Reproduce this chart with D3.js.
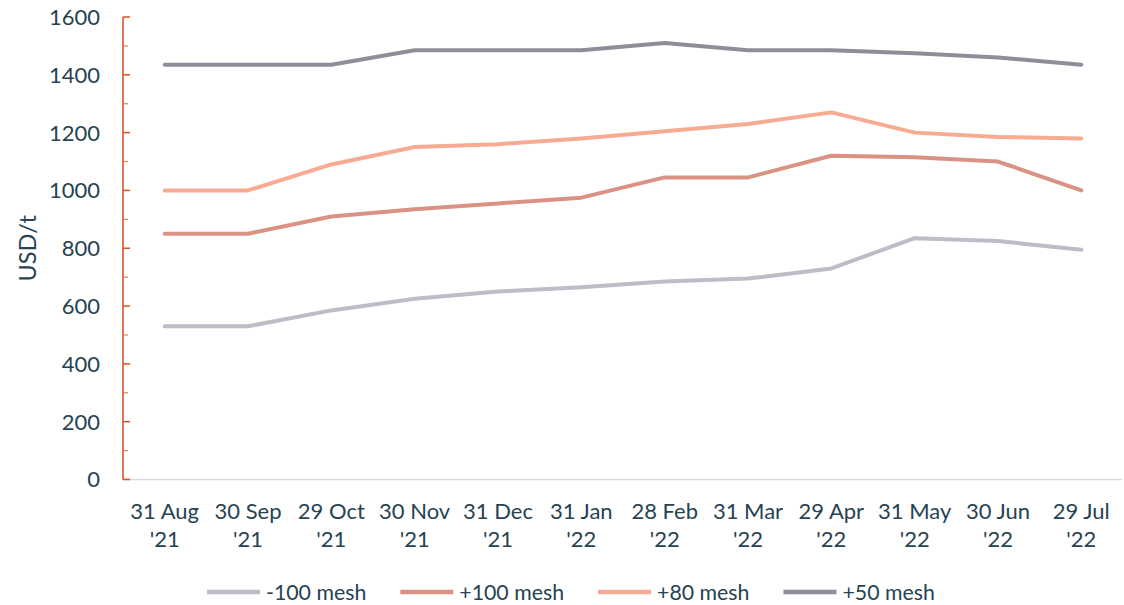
<!DOCTYPE html>
<html>
<head>
<meta charset="utf-8">
<script src="https://cdn.jsdelivr.net/npm/d3@7"></script>
<style>
  html, body { margin: 0; padding: 0; background: #fff; }
  svg { display: block; font-family: Lato, "Open Sans", sans-serif; }
</style>
</head>
<body>
<svg id="chart" width="1124" height="605"></svg>
<script>
// Month-end dates (two-line labels)
const dates = ["31 Aug\n'21", "30 Sep\n'21", "29 Oct\n'21", "30 Nov\n'21", "31 Dec\n'21", "31 Jan\n'22",
               "28 Feb\n'22", "31 Mar\n'22", "29 Apr\n'22", "31 May\n'22", "30 Jun\n'22", "29 Jul\n'22"];

// Prices, USD/t
const mesh100Minus = [530, 530, 585, 625, 650, 665, 685, 695, 730, 835, 825, 795];
const mesh100Plus  = [850, 850, 910, 935, 955, 975, 1045, 1045, 1120, 1115, 1100, 1000];
const mesh80Plus   = [1000, 1000, 1090, 1150, 1160, 1180, 1205, 1230, 1270, 1200, 1185, 1180];
const mesh50Plus   = [1435, 1435, 1435, 1485, 1485, 1485, 1510, 1485, 1485, 1475, 1460, 1435];

const seriesNames = ["-100 mesh", "+100 mesh", "+80 mesh", "+50 mesh"];
const yTicks = [0, 200, 400, 600, 800, 1000, 1200, 1400, 1600];

const series = [
  { name: seriesNames[0], values: mesh100Minus, color: "#bdbcc8" },
  { name: seriesNames[1], values: mesh100Plus,  color: "#d99283" },
  { name: seriesNames[2], values: mesh80Plus,   color: "#f7ab93" },
  { name: seriesNames[3], values: mesh50Plus,   color: "#8d8e99" }
];

const textColor = "#264352";
const axisFont = 22;
const svg = d3.select("#chart");
const plot = { left: 123, right: 1123, top: 17, bottom: 479.5 };

const x = d3.scaleBand().domain(dates).range([plot.left, plot.right]);
const y = d3.scaleLinear().domain([0, 1600]).range([plot.bottom, plot.top]);
const cx = d => x(d) + x.bandwidth() / 2;

// Horizontal baseline
svg.append("line")
  .attr("x1", plot.left).attr("x2", plot.right - 1)
  .attr("y1", y(0)).attr("y2", y(0))
  .attr("stroke", "#d9dadf").attr("stroke-width", 1.5);

// Y axis: major ticks every 200, minor ticks every 100 (pointing inward)
const yAxisG = svg.append("g");
yAxisG.append("line")
  .attr("x1", plot.left).attr("x2", plot.left)
  .attr("y1", y(1600)).attr("y2", y(0))
  .attr("stroke", "#d9531e").attr("stroke-width", 1.6);
const minor = d3.range(100, 1600, 200);
yAxisG.selectAll("line.major").data(yTicks).join("line")
  .attr("class", "major")
  .attr("x1", plot.left).attr("x2", plot.left + 7)
  .attr("y1", d => y(d)).attr("y2", d => y(d))
  .attr("stroke", "#d9531e").attr("stroke-width", 1.5);
yAxisG.selectAll("line.minor").data(minor).join("line")
  .attr("class", "minor")
  .attr("x1", plot.left).attr("x2", plot.left + 5)
  .attr("y1", d => y(d)).attr("y2", d => y(d))
  .attr("stroke", "#e0805a").attr("stroke-width", 1.2);
yAxisG.selectAll("text").data(yTicks).join("text")
  .attr("x", 100).attr("y", d => y(d))
  .attr("dy", "0.36em")
  .attr("text-anchor", "end")
  .attr("font-size", axisFont)
  .attr("fill", textColor)
  .text(d => d);

// Y axis title
svg.append("text")
  .attr("transform", `translate(36, ${(plot.top + plot.bottom) / 2}) rotate(-90)`)
  .attr("text-anchor", "middle")
  .attr("font-size", 23.5)
  .attr("fill", textColor)
  .text("USD/t");

// X axis labels, two lines each
const xLab = svg.append("g").selectAll("text").data(dates).join("text")
  .attr("text-anchor", "middle")
  .attr("font-size", axisFont)
  .attr("fill", textColor);
xLab.each(function(d) {
  const parts = d.split("\n");
  const t = d3.select(this);
  parts.forEach((p, i) => {
    t.append("tspan").attr("x", cx(d)).attr("y", 519 + i * 28).text(p);
  });
});

// Lines
const line = d3.line().x((v, i) => cx(dates[i])).y(v => y(v));
svg.append("g").selectAll("path").data(series).join("path")
  .attr("d", s => line(s.values))
  .attr("fill", "none")
  .attr("stroke", s => s.color)
  .attr("stroke-width", 4)
  .attr("stroke-linejoin", "round")
  .attr("stroke-linecap", "round");

// Legend
const legend = svg.append("g");
let lx = 207;
const ly = 592;
series.forEach(s => {
  legend.append("line")
    .attr("x1", lx).attr("x2", lx + 53)
    .attr("y1", ly).attr("y2", ly)
    .attr("stroke", s.color).attr("stroke-width", 4.5);
  const t = legend.append("text")
    .attr("x", lx + 59).attr("y", ly).attr("dy", "0.36em")
    .attr("font-size", 21.3).attr("fill", textColor)
    .text(s.name);
  lx += 59 + t.node().getComputedTextLength() + 34;
});
</script>
</body>
</html>
